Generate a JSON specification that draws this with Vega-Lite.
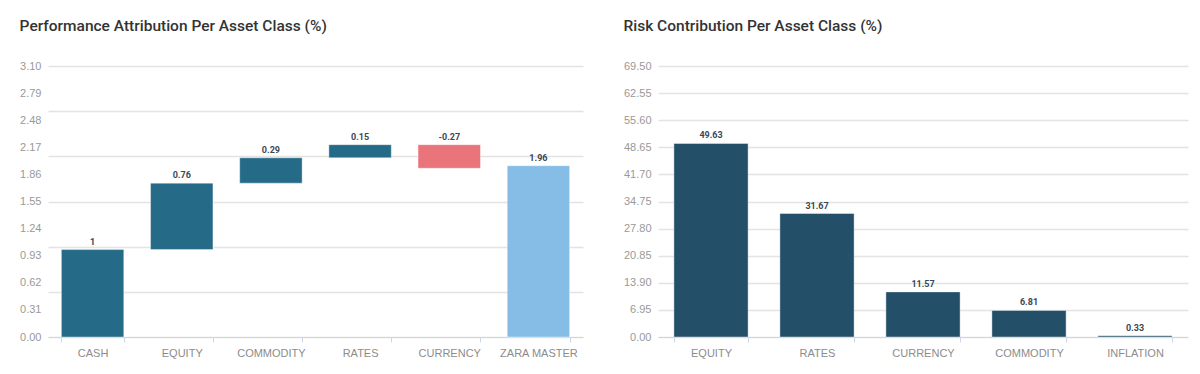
{
  "$schema": "https://vega.github.io/schema/vega-lite/v6.json",
  "background": "white",
  "padding": {"left": 19, "top": 18, "right": 8, "bottom": 10},
  "spacing": 40,
  "config": {
    "font": "Roboto",
    "view": {"stroke": null},
    "title": {"anchor": "start", "fontSize": 15.5, "fontWeight": 500, "color": "#333333", "offset": 26, "frame": "bounds"},
    "axisX": {"labelColor": "#8c8c8c", "labelFont": "Liberation Sans", "labelFontSize": 11, "labelAngle": 0, "title": null, "domainColor": "#ccd6eb", "tickColor": "#ccd6eb", "tickSize": 5, "labelPadding": 5, "tickBand": "extent", "grid": false},
    "axisY": {"labelColor": "#999999", "labelFont": "Liberation Sans", "labelFontSize": 11, "title": null, "domain": false, "ticks": false, "labelPadding": 7, "gridColor": "#e3e3e3", "gridWidth": 1.5, "format": ".2f"}
  },
  "hconcat": [
    {
      "title": "Performance Attribution Per Asset Class (%)",
      "width": 535,
      "height": 271,
      "data": {"values": [
        {"category": "CASH", "lo": 0, "hi": 1, "label": "1", "kind": "up"},
        {"category": "EQUITY", "lo": 1, "hi": 1.76, "label": "0.76", "kind": "up"},
        {"category": "COMMODITY", "lo": 1.76, "hi": 2.05, "label": "0.29", "kind": "up"},
        {"category": "RATES", "lo": 2.05, "hi": 2.2, "label": "0.15", "kind": "up"},
        {"category": "CURRENCY", "lo": 1.93, "hi": 2.2, "label": "-0.27", "kind": "down"},
        {"category": "ZARA MASTER", "lo": 0, "hi": 1.96, "label": "1.96", "kind": "total"}
      ]},
      "encoding": {
        "x": {"field": "category", "type": "nominal", "sort": null, "scale": {"paddingInner": 0.3, "paddingOuter": 0.15}}
      },
      "layer": [
        {
          "mark": {"type": "bar", "stroke": "white", "strokeOpacity": 0.4, "strokeWidth": 1},
          "encoding": {
            "y": {"field": "lo", "type": "quantitative", "scale": {"domain": [0, 3.1], "nice": false, "zero": true},
                  "axis": {"values": [0, 0.31, 0.62, 0.93, 1.24, 1.55, 1.86, 2.17, 2.48, 2.79, 3.1], "grid": false}},
            "y2": {"field": "hi"},
            "color": {"field": "kind", "type": "nominal", "scale": {"domain": ["up", "down", "total"], "range": ["#256a87", "#e97479", "#86bde6"]}, "legend": null}
          }
        },
        {
          "mark": {"type": "text", "fontSize": 9, "fontWeight": "bold", "color": "#3a4856", "baseline": "bottom", "dy": -3},
          "encoding": {
            "y": {"field": "hi", "type": "quantitative", "scale": {"domain": [0, 3.1], "nice": false, "zero": true},
                  "axis": {"orient": "right", "values": [0, 0.516667, 1.033333, 1.55, 2.066667, 2.583333, 3.1], "grid": true, "labels": false, "ticks": false, "domain": false}},
            "text": {"field": "label"}
          }
        }
      ],
      "resolve": {"axis": {"y": "independent"}}
    },
    {
      "title": "Risk Contribution Per Asset Class (%)",
      "width": 530,
      "height": 271,
      "data": {"values": [
        {"category": "EQUITY", "value": 49.63},
        {"category": "RATES", "value": 31.67},
        {"category": "CURRENCY", "value": 11.57},
        {"category": "COMMODITY", "value": 6.81},
        {"category": "INFLATION", "value": 0.33}
      ]},
      "encoding": {
        "x": {"field": "category", "type": "nominal", "sort": null, "scale": {"paddingInner": 0.3, "paddingOuter": 0.15}},
        "y": {"field": "value", "type": "quantitative", "scale": {"domain": [0, 69.5], "nice": false, "zero": true},
              "axis": {"values": [0, 6.95, 13.9, 20.85, 27.8, 34.75, 41.7, 48.65, 55.6, 62.55, 69.5], "grid": true}}
      },
      "layer": [
        {"mark": {"type": "bar", "color": "#244f69", "stroke": "white", "strokeOpacity": 0.4, "strokeWidth": 1}},
        {"mark": {"type": "text", "fontSize": 9, "fontWeight": "bold", "color": "#3a4856", "baseline": "bottom", "dy": -3},
         "encoding": {"text": {"field": "value", "type": "quantitative", "format": ".2f"}}}
      ]
    }
  ]
}
